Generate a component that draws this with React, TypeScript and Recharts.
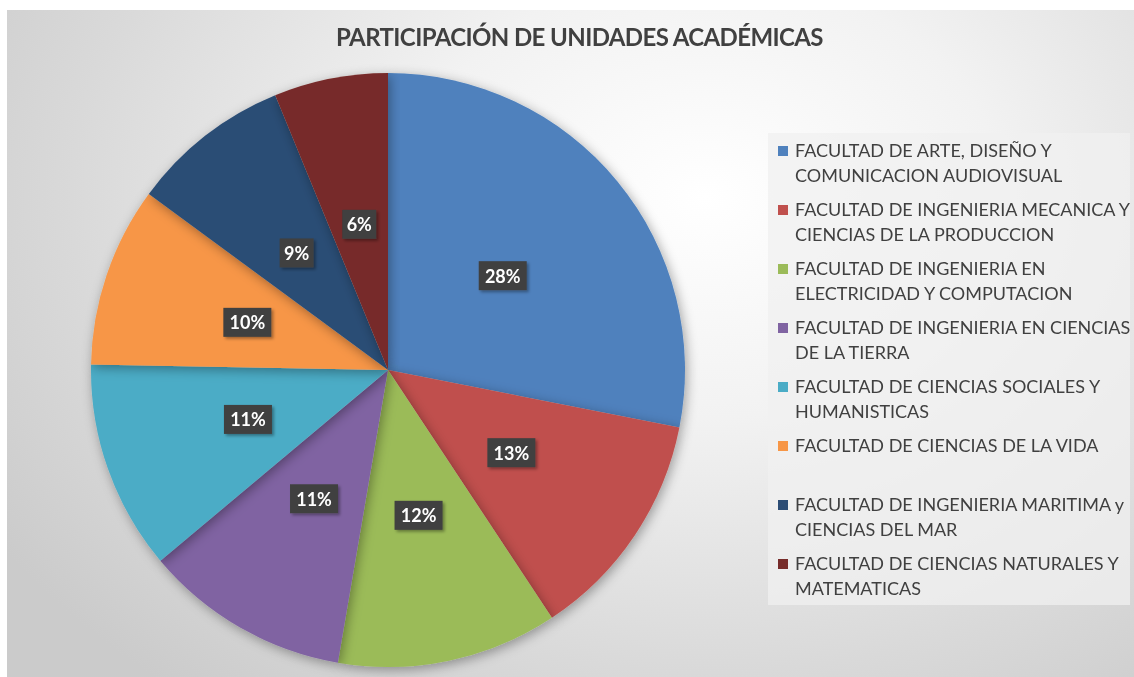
import React from 'react';
import { PieChart, Pie, Cell, Legend } from 'recharts';

// faculties, in the order the slices go clockwise from 12 o'clock
const FACULTIES = [
  'FACULTAD DE ARTE, DISEÑO Y COMUNICACION AUDIOVISUAL',
  'FACULTAD DE INGENIERIA MECANICA Y CIENCIAS DE LA PRODUCCION',
  'FACULTAD DE INGENIERIA EN ELECTRICIDAD Y COMPUTACION',
  'FACULTAD DE INGENIERIA EN CIENCIAS DE LA TIERRA',
  'FACULTAD DE CIENCIAS SOCIALES Y HUMANISTICAS',
  'FACULTAD DE CIENCIAS DE LA VIDA',
  'FACULTAD DE INGENIERIA MARITIMA y CIENCIAS DEL MAR',
  'FACULTAD DE CIENCIAS NATURALES Y MATEMATICAS',
];

// legend text as it wraps in the original
const LEGEND_LINES = [
  ['FACULTAD DE ARTE, DISEÑO Y', 'COMUNICACION AUDIOVISUAL'],
  ['FACULTAD DE INGENIERIA MECANICA Y', 'CIENCIAS DE LA PRODUCCION'],
  ['FACULTAD DE INGENIERIA EN', 'ELECTRICIDAD Y COMPUTACION'],
  ['FACULTAD DE INGENIERIA EN CIENCIAS', 'DE LA TIERRA'],
  ['FACULTAD DE CIENCIAS SOCIALES Y', 'HUMANISTICAS'],
  ['FACULTAD DE CIENCIAS DE LA VIDA'],
  ['FACULTAD DE INGENIERIA MARITIMA y', 'CIENCIAS DEL MAR'],
  ['FACULTAD DE CIENCIAS NATURALES Y', 'MATEMATICAS'],
];

// share of each faculty (%)
const SHARES = [28.1, 12.6, 12.0, 11.2, 11.4, 9.8, 8.7, 6.2];

const COLORS = ['#4f81bd', '#c0504d', '#9bbb59', '#8064a2', '#4bacc6', '#f79646', '#2c4d75', '#772c2a'];

const data = FACULTIES.map((name, i) => ({ name, value: SHARES[i] }));

const RAD = Math.PI / 180;
const FONT = 'Lato, "Open Sans", sans-serif';

const renderLabel = (props: any) => {
  const { cx, cy, midAngle, outerRadius, percent } = props;
  const r = outerRadius * 0.5;
  const x = cx + r * Math.cos(-midAngle * RAD);
  const y = cy + r * Math.sin(-midAngle * RAD);
  const text = `${Math.round(percent * 100)}%`;
  const w = text.length === 2 ? 34 : 48;
  const h = 29;
  return (
    <g>
      <rect x={x - w / 2} y={y - h / 2} width={w} height={h} fill="#404040" filter="url(#lblShadow)" />
      <text
        x={x}
        y={y}
        fill="#ffffff"
        textAnchor="middle"
        dominantBaseline="central"
        style={{ fontFamily: FONT, fontSize: 18, fontWeight: 700 }}
      >
        {text}
      </text>
    </g>
  );
};

const CustomLegend = () => (
  <div
    style={{
      width: 362,
      height: 472,
      background: 'rgba(240,240,240,0.75)',
      boxSizing: 'border-box',
      paddingTop: 5,
      paddingLeft: 10,
      fontFamily: FONT,
      fontSize: 18,
      color: '#404040',
    }}
  >
    {LEGEND_LINES.map((lines, i) => (
      <div key={i} style={{ height: 59, display: 'flex', alignItems: 'flex-start' }}>
        <div style={{ width: 10, height: 10, background: COLORS[i], marginTop: 8, marginRight: 7, flexShrink: 0 }} />
        <div style={{ lineHeight: '25px', whiteSpace: 'nowrap' }}>
          {lines.map((l, j) => (
            <div key={j}>{l}</div>
          ))}
        </div>
      </div>
    ))}
  </div>
);

export default function App() {
  return (
    <div
      style={{
        position: 'fixed',
        left: 7,
        top: 10,
        width: 1127,
        height: 667,
        background: 'radial-gradient(ellipse 75% 95% at 62% 28%, #ffffff 0%, #f2f2f2 35%, #d9d9d9 75%, #cbcbcb 100%)',
      }}
    >
      <div
        style={{
          position: 'absolute',
          left: 9,
          width: 1127,
          top: 12,
          textAlign: 'center',
          fontFamily: FONT,
          fontWeight: 700,
          fontSize: 24,
          color: '#404040',
          letterSpacing: -0.6,
        }}
      >
        PARTICIPACIÓN DE UNIDADES ACADÉMICAS
      </div>
      <PieChart
        width={1127}
        height={667}
        margin={{ top: 0, right: 0, bottom: 0, left: 0 }}
        style={{ position: 'absolute', left: 0, top: 0 }}
      >
        <defs>
          <filter id="pieShadow" x="-10%" y="-10%" width="120%" height="120%">
            <feDropShadow dx="2" dy="3" stdDeviation="6" floodColor="#000" floodOpacity="0.35" />
          </filter>
          <filter id="lblShadow" x="-30%" y="-30%" width="160%" height="160%">
            <feDropShadow dx="2" dy="2" stdDeviation="1.5" floodColor="#000" floodOpacity="0.35" />
          </filter>
        </defs>
        <Pie
          data={data}
          dataKey="value"
          nameKey="name"
          cx={381}
          cy={360}
          outerRadius={297}
          startAngle={90}
          endAngle={-270}
          stroke="none"
          label={renderLabel}
          labelLine={false}
          isAnimationActive={false}
          style={{ filter: 'url(#pieShadow)' }}
        >
          {data.map((d, i) => (
            <Cell key={d.name} fill={COLORS[i]} />
          ))}
        </Pie>
        <Legend
          content={<CustomLegend />}
          wrapperStyle={{ position: 'absolute', left: 761, top: 123, width: 362, height: 472 }}
        />
      </PieChart>
    </div>
  );
}
